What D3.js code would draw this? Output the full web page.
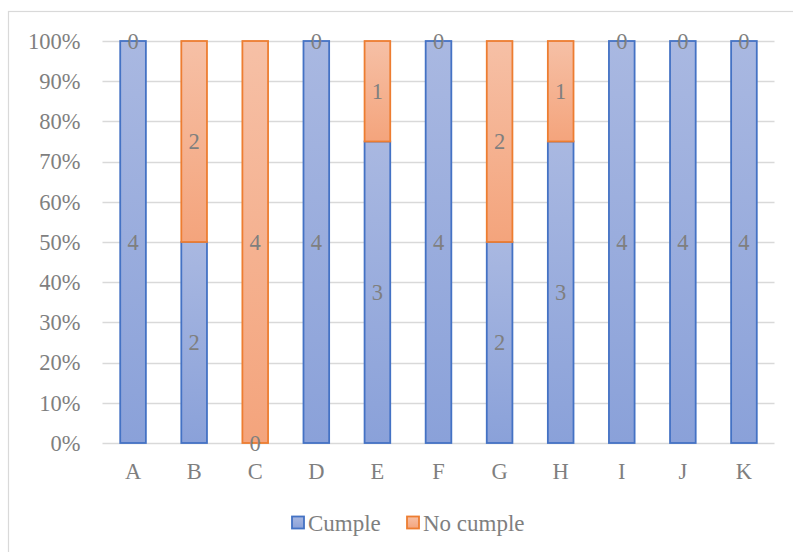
<!DOCTYPE html>
<html>
<head>
<meta charset="utf-8">
<script src="https://cdn.jsdelivr.net/npm/d3@7"></script>
<style>
  html, body { margin: 0; padding: 0; background: #fff; }
  svg { display: block; }
</style>
</head>
<body>
<svg id="chart" width="793" height="552"></svg>
<script>
// Categories and counts per category
const categories = ["A", "B", "C", "D", "E", "F", "G", "H", "I", "J", "K"];
const cumple   = [4, 2, 0, 4, 3, 4, 2, 3, 4, 4, 4];
const noCumple = [0, 2, 4, 0, 1, 0, 2, 1, 0, 0, 0];
const seriesNames = ["Cumple", "No cumple"];
const yTicks = [0, 0.1, 0.2, 0.3, 0.4, 0.5, 0.6, 0.7, 0.8, 0.9, 1.0];

const FONT = "'Liberation Serif', 'Times New Roman', serif";
const TEXT_COLOR = "#7f7f7f";

const colors = {
  "Cumple":    { stroke: "#4472C4", top: "#a9b8e1", bottom: "#8aa1d9" },
  "No cumple": { stroke: "#ED7D31", top: "#f6c0a6", bottom: "#f4a47c" }
};

const svg = d3.select("#chart");
const W = 793, H = 552;

// Chart frame
svg.append("rect")
  .attr("x", 8.5).attr("y", 11.5)
  .attr("width", W + 10).attr("height", H + 10)
  .attr("fill", "#fff").attr("stroke", "#d9d9d9").attr("stroke-width", 1.2);

const plot = { left: 102.5, right: 774.5, top: 41, bottom: 443 };

const x = d3.scaleBand()
  .domain(categories)
  .range([plot.left, plot.right])
  .paddingInner(0.58)
  .paddingOuter(0.29);

const y = d3.scaleLinear().domain([0, 1]).range([plot.bottom, plot.top]);

// Gradients (lighter at the top of every segment)
const defs = svg.append("defs");
seriesNames.forEach((name, i) => {
  const g = defs.append("linearGradient")
    .attr("id", "grad" + i)
    .attr("x1", 0).attr("y1", 0).attr("x2", 0).attr("y2", 1);
  g.append("stop").attr("offset", "0%").attr("stop-color", colors[name].top);
  g.append("stop").attr("offset", "100%").attr("stop-color", colors[name].bottom);
});

// Gridlines
svg.append("g")
  .selectAll("line")
  .data(yTicks)
  .join("line")
  .attr("x1", plot.left).attr("x2", plot.right)
  .attr("y1", d => Math.round(y(d)) + 0.5).attr("y2", d => Math.round(y(d)) + 0.5)
  .attr("stroke", "#d9d9d9").attr("stroke-width", 1.3);

// Y axis
const yAxis = svg.append("g")
  .attr("transform", `translate(${plot.left},0)`)
  .call(d3.axisLeft(y).tickValues(yTicks).tickFormat(d3.format(".0%")).tickSize(0).tickPadding(22));
yAxis.select(".domain").remove();
yAxis.selectAll("text")
  .attr("fill", TEXT_COLOR)
  .style("font-size", "22.5px")
  .style("font-family", FONT);

// X axis
const xAxis = svg.append("g")
  .attr("transform", `translate(0,${plot.bottom})`)
  .call(d3.axisBottom(x).tickSize(0).tickPadding(20));
xAxis.select(".domain").remove();
xAxis.selectAll("text")
  .attr("fill", TEXT_COLOR)
  .style("font-size", "22.5px")
  .style("font-family", FONT);

// Stack data as share of total
const rows = categories.map((c, i) => ({ cat: c, "Cumple": cumple[i], "No cumple": noCumple[i] }));
const stack = d3.stack().keys(seriesNames).offset(d3.stackOffsetExpand);
const layers = stack(rows);

layers.forEach((layer, li) => {
  const name = seriesNames[li];
  svg.append("g")
    .selectAll("rect")
    .data(layer.filter(d => d[1] - d[0] > 0))
    .join("rect")
    .attr("x", d => x(d.data.cat))
    .attr("width", x.bandwidth())
    .attr("y", d => y(d[1]))
    .attr("height", d => y(d[0]) - y(d[1]))
    .attr("fill", `url(#grad${li})`)
    .attr("stroke", colors[name].stroke)
    .attr("stroke-width", 1.8);
});

// Data labels (counts) at segment centres
layers.forEach((layer, li) => {
  const name = seriesNames[li];
  svg.append("g")
    .selectAll("text")
    .data(layer)
    .join("text")
    .attr("x", d => x(d.data.cat) + x.bandwidth() / 2)
    .attr("y", d => y((d[0] + d[1]) / 2))
    .attr("dy", "0.35em")
    .attr("text-anchor", "middle")
    .attr("fill", TEXT_COLOR)
    .style("font-size", "22.5px")
    .style("font-family", FONT)
    .text(d => d.data[name]);
});

// Legend
const legend = svg.append("g");
const legendItems = [
  { name: "Cumple", x: 292 },
  { name: "No cumple", x: 407 }
];
legendItems.forEach((it, i) => {
  legend.append("rect")
    .attr("x", it.x).attr("y", 516.5)
    .attr("width", 12).attr("height", 12)
    .attr("fill", `url(#grad${i})`)
    .attr("stroke", colors[it.name].stroke).attr("stroke-width", 1.8);
  legend.append("text")
    .attr("x", it.x + 16).attr("y", 523)
    .attr("dy", "0.35em")
    .attr("fill", TEXT_COLOR)
    .style("font-size", "23px")
    .style("font-family", FONT)
    .text(it.name);
});
</script>
</body>
</html>
